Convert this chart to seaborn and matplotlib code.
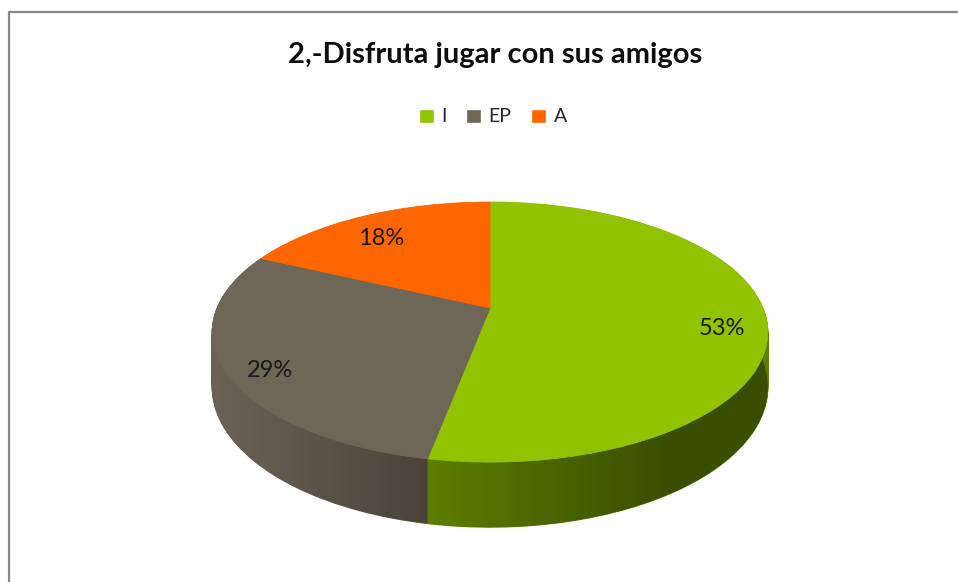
import matplotlib
matplotlib.use("Agg")

import numpy as np
import matplotlib.pyplot as plt
import seaborn as sns
from matplotlib.colors import to_rgb
from matplotlib.lines import Line2D
from matplotlib.patches import Patch
from matplotlib.path import Path
from matplotlib.transforms import Transform

# ---- data ----
title = "2,-Disfruta jugar con sus amigos"
categories = ["I", "EP", "A"]
percentages = [53, 29, 18]
top_colors = ["#92c300", "#6e6657", "#ff6600"]
side_light = ["#5d7e00", "#6b6356", "#c04c00"]
side_dark = ["#3a4e00", "#4a4339", "#9a3d00"]
side_ramp = [0.7, 1.0, 1.0]

# ---- geometry of the tilted disk (pixels) ----
CX, CY = 490, 308      # point where the slices meet
RX, RY = 273, 125.6
PERSP = 0.185          # a little perspective, back of the disk looks smaller
DEPTH = 53             # thickness of the disk
N_LAYERS = 60


class Tilt(Transform):
    """Maps the unit pie onto a tilted disk, optionally pushed down."""
    input_dims = output_dims = 2
    is_separable = False

    def __init__(self, drop=0.0):
        super().__init__()
        self.drop = drop

    def transform_non_affine(self, values):
        xy = np.asarray(values, dtype=float).reshape(-1, 2)
        w = 1 + PERSP * xy[:, 1]
        return np.column_stack([CX + RX * xy[:, 0] / w,
                                CY - (RY * xy[:, 1] - self.drop) / w])


sns.set_theme(style="white")
plt.rcParams["font.family"] = ["Lato", "DejaVu Sans"]

fig = plt.figure(figsize=(9.58, 5.82), dpi=100)
fig.patch.set_facecolor("white")
ax = fig.add_axes([0, 0, 1, 1])

pie_kw = dict(startangle=90, counterclock=False)

# ---- side of the disk: same pie stacked downwards, deepest first ----
for k in range(N_LAYERS, 0, -1):
    layer, _ = ax.pie(percentages, colors=side_light, **pie_kw)
    for w in layer:
        w.set_edgecolor(w.get_facecolor())
        w.set_linewidth(0.8)
        w.set_transform(Tilt(DEPTH * k / N_LAYERS) + ax.transData)

# shading on the visible front of the side
cum = np.concatenate([[0], np.cumsum(percentages)])
for i in range(len(percentages)):
    a0 = 90 - 3.6 * cum[i]
    a1 = 90 - 3.6 * cum[i + 1]
    lo, hi = max(a1, -180), min(a0, 0)
    if lo >= hi:
        continue
    phi = np.radians(np.linspace(hi, lo, 90))
    ring = np.column_stack([np.cos(phi), np.sin(phi)])
    poly = np.vstack([Tilt(0).transform(ring), Tilt(DEPTH).transform(ring)[::-1]])
    x0, x1 = poly[:, 0].min(), poly[:, 0].max()
    y0, y1 = poly[:, 1].min(), poly[:, 1].max()
    u = np.clip(np.linspace(0, 1, 256) / side_ramp[i], 0, 1)
    c0, c1 = np.array(to_rgb(side_light[i])), np.array(to_rgb(side_dark[i]))
    grad = c0 + (c1 - c0) * u[:, None]
    img = ax.imshow(grad[None, :, :], extent=(x0, x1, y1, y0), aspect="auto",
                    interpolation="bilinear", zorder=2)
    img.set_clip_path(Path(poly), ax.transData)

# ---- top face ----
wedges, _, pcts = ax.pie(percentages, colors=top_colors, autopct="%1.0f%%",
                         pctdistance=0.84, wedgeprops=dict(zorder=3), **pie_kw)
for w in wedges:
    w.set_edgecolor(w.get_facecolor())
    w.set_linewidth(0.6)
    w.set_transform(Tilt(0) + ax.transData)
for t in pcts:
    t.set_transform(Tilt(10) + ax.transData)
    t.set_fontsize(17)
    t.set_color("#1a1a1a")
    t.set_zorder(5)

ax.set_xlim(0, 958)
ax.set_ylim(582, 0)
ax.set_aspect("auto")
ax.axis("off")

fig.text(495 / 958, 1 - 55 / 582, title, ha="center", va="center",
         fontsize=21, fontweight="bold", color="#0d0d0d")

handles = [Patch(facecolor=c) for c in top_colors]
fig.legend(handles, categories, loc="center", bbox_to_anchor=(493 / 958, 1 - 117 / 582),
           ncol=3, frameon=False, fontsize=14, handlelength=0.75, handleheight=0.75,
           handletextpad=0.4, columnspacing=1.0)

# chart frame (only top and left edges fall inside the picture)
fig.add_artist(Line2D([9 / 958, 9 / 958, 1], [0, 1 - 12 / 582, 1 - 12 / 582],
                      transform=fig.transFigure, color="#878787", lw=1.6))

fig.savefig("out.png", dpi=100)
